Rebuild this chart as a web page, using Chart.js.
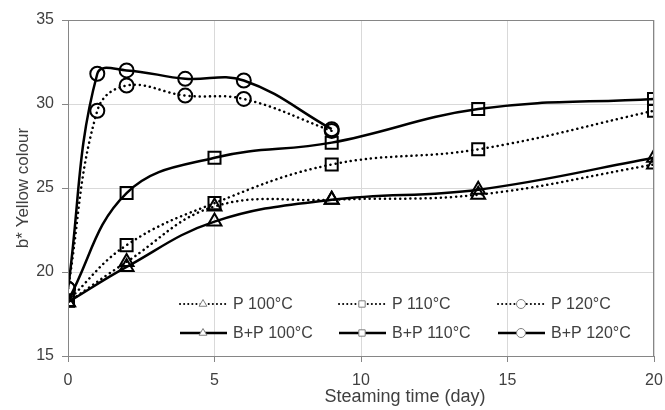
<!DOCTYPE html>
<html>
<head>
<meta charset="utf-8">
<script src="https://cdn.jsdelivr.net/npm/chart.js@4.4.1/dist/chart.umd.min.js"></script>
<style>
  html, body { margin: 0; padding: 0; background: #fff; }
  #wrap { width: 665px; height: 410px; }
</style>
</head>
<body>
<div id="wrap"><canvas id="chart"></canvas></div>
<script>
// steaming days sampled
const days = [0, 2, 5, 9, 14, 20];
const days120 = [0, 1, 2, 4, 6, 9];

// b* values
const p100 = [18.2, 20.6, 23.9, 24.3, 24.6, 26.4];
const p110 = [18.3, 21.6, 24.1, 26.4, 27.3, 29.6];
const p120 = [19.0, 29.6, 31.1, 30.5, 30.3, 28.4];
const bp100 = [18.2, 20.3, 23.0, 24.3, 24.9, 26.8];
const bp110 = [18.3, 24.7, 26.8, 27.7, 29.7, 30.3];
const bp120 = [19.0, 31.8, 32.0, 31.5, 31.4, 28.5];

const labels = ['P 100°C', 'P 110°C', 'P 120°C', 'B+P 100°C', 'B+P 110°C', 'B+P 120°C'];
const xRange = [0, 20];
const yRange = [15, 35];

const AXIS = '#868686';
const GRID = '#d9d9d9';
const TEXT = '#404040';
const FONT = "'Liberation Sans', Arial, sans-serif";

const pts = (xs, ys) => xs.map((x, i) => ({ x, y: ys[i] }));
const markerSize = { triangle: 8, rect: 8.5, circle: 7 };

function series(label, xs, ys, style, dotted) {
  return {
    label,
    data: pts(xs, ys),
    borderColor: '#000',
    borderWidth: 2.5,
    borderDash: dotted ? [0.1, 5] : [],
    borderCapStyle: dotted ? 'round' : 'butt',
    tension: 0.4,
    pointStyle: style,
    pointRadius: markerSize[style],
    pointBorderWidth: 2,
    pointBorderColor: '#000',
    pointBackgroundColor: 'rgba(0,0,0,0)',
    fill: false,
    dotted,
  };
}

const datasets = [
  series(labels[0], days, p100, 'triangle', true),
  series(labels[1], days, p110, 'rect', true),
  series(labels[2], days120, p120, 'circle', true),
  series(labels[3], days, bp100, 'triangle', false),
  series(labels[4], days, bp110, 'rect', false),
  series(labels[5], days120, bp120, 'circle', false),
];

// frame, in-plot legend and x title
const extras = {
  id: 'extras',
  afterDraw(chart) {
    const { ctx, chartArea: a } = chart;
    ctx.save();
    ctx.strokeStyle = AXIS;
    ctx.lineWidth = 1;
    ctx.strokeRect(a.left + 0.5, a.top + 0.5, a.right - a.left - 1, a.bottom - a.top);

    ctx.font = '16px ' + FONT;
    ctx.textBaseline = 'middle';
    ctx.fillStyle = TEXT;
    chart.data.datasets.forEach((ds, i) => {
      const col = i % 3, row = Math.floor(i / 3);
      const x0 = 180 + col * 159, y0 = 304 + row * 29;
      ctx.save();
      ctx.strokeStyle = '#000';
      if (ds.dotted) {
        ctx.lineWidth = 2;
        ctx.setLineDash([0.1, 4]);
        ctx.lineCap = 'round';
      } else {
        ctx.lineWidth = 2.5;
      }
      ctx.beginPath();
      ctx.moveTo(x0, y0);
      ctx.lineTo(x0 + 47, y0);
      ctx.stroke();
      ctx.restore();
      ctx.save();
      ctx.strokeStyle = '#7f7f7f';
      ctx.fillStyle = '#fff';
      ctx.lineWidth = 1;
      Chart.helpers.drawPoint(ctx, { pointStyle: ds.pointStyle, radius: 4.5, borderWidth: 1 }, x0 + 23, y0);
      ctx.restore();
      ctx.fillText(ds.label, x0 + 53, y0 + 1);
    });

    ctx.font = '18px ' + FONT;
    ctx.textAlign = 'center';
    ctx.fillText('Steaming time (day)', 405, 397);
    ctx.restore();
  }
};

new Chart(document.getElementById('chart'), {
  type: 'line',
  data: { datasets },
  plugins: [extras],
  options: {
    responsive: true,
    maintainAspectRatio: false,
    animation: false,
    layout: { padding: { top: 20, right: 11, left: 0, bottom: 0 } },
    plugins: { legend: { display: false }, tooltip: { enabled: false } },
    scales: {
      x: {
        type: 'linear',
        min: xRange[0],
        max: xRange[1],
        afterFit: s => { s.height = 54; s.paddingLeft = 0; s.paddingRight = 0; },
        border: { color: AXIS },
        grid: { color: GRID, tickColor: AXIS, tickLength: 6 },
        ticks: { stepSize: 5, color: TEXT, font: { family: FONT, size: 16 }, padding: 9 },
      },
      y: {
        min: yRange[0],
        max: yRange[1],
        afterFit: s => { s.width = 68; s.paddingTop = 0; s.paddingBottom = 0; },
        border: { color: AXIS },
        grid: { color: GRID, tickColor: AXIS, tickLength: 6 },
        ticks: { stepSize: 5, color: TEXT, font: { family: FONT, size: 16 }, padding: 8 },
        title: { display: true, text: 'b* Yellow colour', color: TEXT, font: { family: FONT, size: 17 }, padding: { top: 13, bottom: 0 } },
      },
    },
  },
});
</script>
</body>
</html>
